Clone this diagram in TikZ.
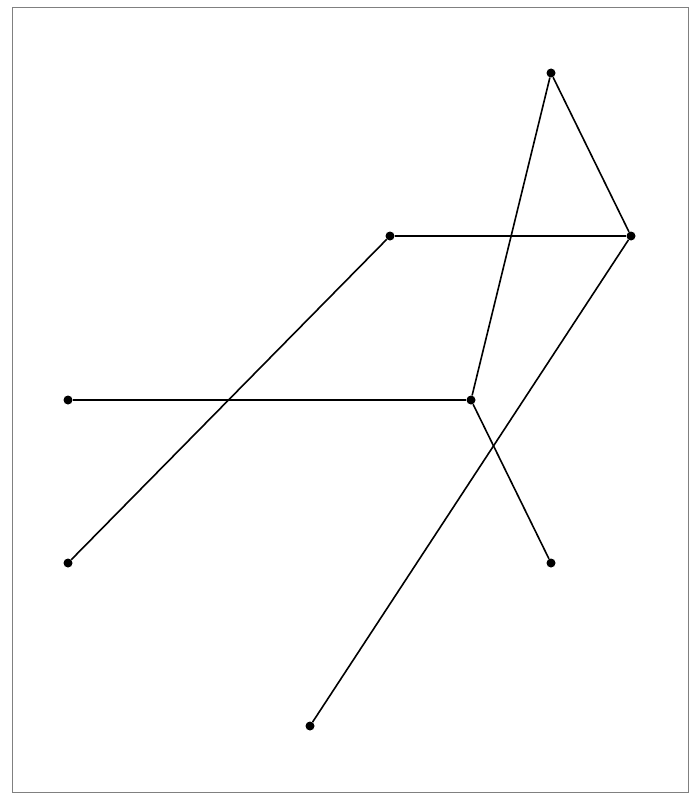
\documentclass[tikz,border=0pt]{standalone}
\begin{document}
\begin{tikzpicture}[x=1pt,y=-1pt,
  vtx/.style={circle,fill=black,inner sep=0pt,minimum size=9pt},
  edge/.style={line width=1.6pt}]
\useasboundingbox (0,0) rectangle (700,800);
\draw[gray,line width=1pt] (12.5,8) rectangle (688,792);
\node[vtx] (a) at (551,73) {};
\node[vtx] (b) at (631,236) {};
\node[vtx] (c) at (390,236) {};
\node[vtx] (d) at (471,400) {};
\node[vtx] (e) at (68,400) {};
\node[vtx] (f) at (68,563) {};
\node[vtx] (g) at (551,563) {};
\node[vtx] (h) at (310,726) {};
\draw[edge] (a) -- (b);
\draw[edge] (a) -- (d);
\draw[edge] (c) -- (b);
\draw[edge] (c) -- (f);
\draw[edge] (e) -- (d);
\draw[edge] (d) -- (g);
\draw[edge] (b) -- (h);
\end{tikzpicture}
\end{document}
